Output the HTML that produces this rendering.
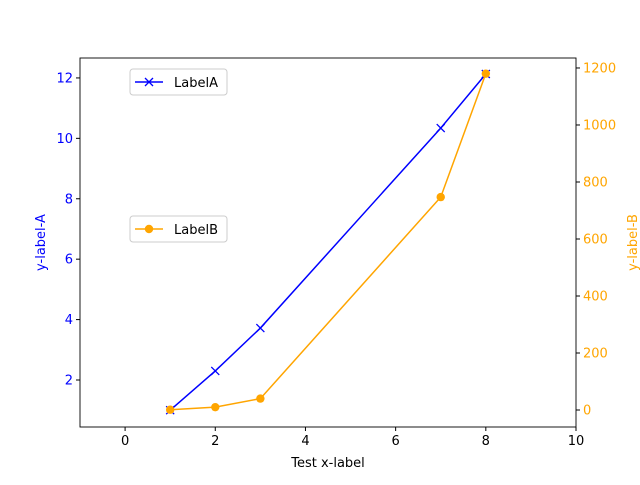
<!DOCTYPE html>
<html><head><meta charset="utf-8"><style>
body{margin:0;background:#fff}
svg text{font-family:"DejaVu Sans","Liberation Sans",sans-serif;font-size:13px}
</style></head><body>
<svg id="chart" width="640" height="480" viewBox="0 0 640 480" xmlns="http://www.w3.org/2000/svg"></svg>
<script>
const xValues=[1,2,3,7,8];
const seriesA=[1.0,2.3,3.72,10.34,12.13];
const seriesB=[1,10,40,747,1180];
const xTicks=[0,2,4,6,8,10];
const yTicksA=[2,4,6,8,10,12];
const yTicksB=[0,200,400,600,800,1000,1200];
const L=80,R=576,T=58,B=427;
const xMin=-1,xMax=10,aMin=0.444,aMax=12.66,bMin=-59.6,bMax=1235;
const sx=v=>L+(v-xMin)/(xMax-xMin)*(R-L);
const sa=v=>B-(v-aMin)/(aMax-aMin)*(B-T);
const sb=v=>B-(v-bMin)/(bMax-bMin)*(B-T);
const svg=document.getElementById('chart');
const NS='http://www.w3.org/2000/svg';
function mk(tag,attrs,parent){const e=document.createElementNS(NS,tag);for(const k in attrs)e.setAttribute(k,attrs[k]);(parent||svg).appendChild(e);return e;}
function txt(s,attrs){const e=mk('text',attrs);e.textContent=s;return e;}
// series B line (drawn under A? A drawn first in mpl, B on twin axes on top)
let pa=xValues.map((x,i)=>(i?'L':'M')+sx(x)+','+sa(seriesA[i])).join('');
let la=mk('path',{d:pa,fill:'none',stroke:'#0000ff','stroke-width':1.5});


xValues.forEach((x,i)=>{const cx=sx(x),cy=sa(seriesA[i]);
 const m=mk('path',{d:`M${cx-4},${cy-4}L${cx+4},${cy+4}M${cx-4},${cy+4}L${cx+4},${cy-4}`,stroke:'#0000ff','stroke-width':1.3});
 
 });
let pb=xValues.map((x,i)=>(i?'L':'M')+sx(x)+','+sb(seriesB[i])).join('');
let lb=mk('path',{d:pb,fill:'none',stroke:'#ffa500','stroke-width':1.5});


xValues.forEach((x,i)=>{const c=mk('circle',{cx:sx(x),cy:sb(seriesB[i]),r:4.2,fill:'#ffa500'});
 
 });
// frame
const f=mk('rect',{x:L,y:T,width:R-L,height:B-T,fill:'none',stroke:'#000','stroke-width':0.9});


xTicks.forEach(v=>{const x=sx(v);mk('line',{x1:x,x2:x,y1:B,y2:B+4,stroke:'#000'});
 const t=txt(String(v),{x:x,y:B+18,'text-anchor':'middle',fill:'#000'});
 
 });
yTicksA.forEach(v=>{const y=sa(v);mk('line',{x1:L-4,x2:L,y1:y,y2:y,stroke:'#000'});
 const t=txt(String(v),{x:L-7,y:y+4.5,'text-anchor':'end',fill:'#0000ff'});
 
 });
yTicksB.forEach(v=>{const y=sb(v);mk('line',{x1:R,x2:R+4,y1:y,y2:y,stroke:'#000'});
 const t=txt(String(v),{x:R+7,y:y+4.5,'text-anchor':'start',fill:'#ffa500'});
 
 });
let t1=txt('Test x-label',{x:(L+R)/2,y:467,'text-anchor':'middle',fill:'#000'});


let t2=txt('y-label-A',{x:0,y:0,'text-anchor':'middle',fill:'#0000ff',transform:`translate(45,${(T+B)/2}) rotate(-90)`});


let t3=txt('y-label-B',{x:0,y:0,'text-anchor':'middle',fill:'#ffa500',transform:`translate(637,${(T+B)/2}) rotate(-90)`});


// legends
function legend(y,label,color,kind,name){
 const g=mk('g',{});
 
 
 mk('rect',{x:130,y:y,width:97,height:26,rx:3,fill:'#fff','fill-opacity':0.8,stroke:'#ccc'},g);
 mk('line',{x1:135,x2:163,y1:y+13,y2:y+13,stroke:color,'stroke-width':1.5},g);
 if(kind==='x')mk('path',{d:`M145,${y+9}L153,${y+17}M145,${y+17}L153,${y+9}`,stroke:color,'stroke-width':1.3},g);
 else mk('circle',{cx:149,cy:y+13,r:4.2,fill:color},g);
 const t=mk('text',{x:174,y:y+18,fill:'#000'},g);t.textContent=label;
}
legend(69,'LabelA','#0000ff','x','legend-label-a');
legend(216,'LabelB','#ffa500','o','legend-label-b');
</script>
</body></html>
